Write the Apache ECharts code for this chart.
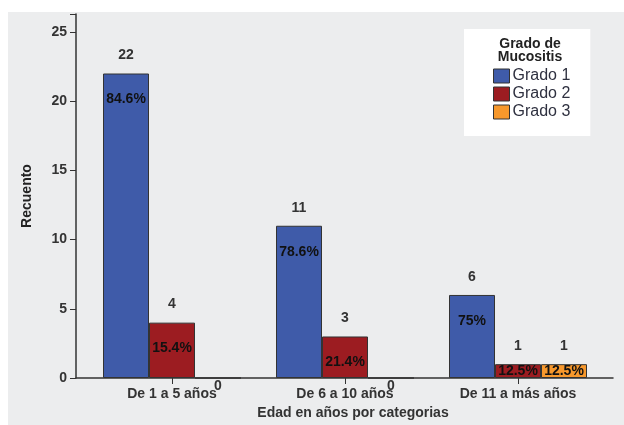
<!DOCTYPE html>
<html>
<head>
<meta charset="utf-8">
<script src="https://cdn.jsdelivr.net/npm/echarts@6/dist/echarts.min.js"></script>
<style>
  html, body { margin:0; padding:0; background:#ffffff; }
  #chart { position:absolute; left:8px; top:12px; width:616px; height:413px; background:#ecedee; }
</style>
</head>
<body>
<div id="chart"></div>
<script>
// data
var categories = ['De 1 a 5 años', 'De 6 a 10 años', 'De 11 a más años'];
var grado1 = [22, 11, 6];
var grado2 = [4, 3, 1];
var grado3 = [0, 0, 1];
var pct1 = ['84.6%', '78.6%', '75%'];
var pct2 = ['15.4%', '21.4%', '12.5%'];
var pct3 = ['', '', '12.5%'];
var yTicks = [0, 5, 10, 15, 20, 25];

var names = ['Grado 1', 'Grado 2', 'Grado 3'];
var colors = ['#3f5ba9', '#9c1c21', '#f7982c'];
var FONT = '"Liberation Sans", Arial, sans-serif';
var YMAX = 26.3;

var chart = echarts.init(document.getElementById('chart'));

// count on top of the bar, a 0 sits under the axis
function countData(vals) {
  return vals.map(function (v) {
    return {
      value: v,
      label: v === 0 ? { position: 'bottom', distance: 1 } : {}
    };
  });
}
// percent inside the bar, small bars get it centred
function pctData(vals, pcts) {
  return vals.map(function (v, i) {
    return {
      value: v,
      pct: pcts[i],
      label: v < 2 ? { position: 'inside' } : {}
    };
  });
}

var series = [];
[grado1, grado2, grado3].forEach(function (vals, k) {
  series.push({
    name: names[k],
    type: 'bar',
    xAxisIndex: 1,
    yAxisIndex: 1,
    barWidth: 46,
    barGap: '0%',
    data: countData(vals),
    itemStyle: { color: colors[k], borderColor: '#333', borderWidth: 1 },
    label: {
      show: true, position: 'top', distance: 11,
      color: '#333', fontFamily: FONT, fontWeight: 'bold', fontSize: 14
    }
  });
});
[[grado1, pct1], [grado2, pct2], [grado3, pct3]].forEach(function (p) {
  series.push({
    type: 'bar',
    xAxisIndex: 2,
    yAxisIndex: 1,
    barWidth: 46,
    barGap: '0%',
    silent: true,
    data: pctData(p[0], p[1]),
    itemStyle: { color: 'rgba(0,0,0,0)' },
    label: {
      show: true, position: 'insideTop', distance: 19,
      formatter: function (d) { return d.data.pct; },
      color: '#111', fontFamily: FONT, fontWeight: 'bold', fontSize: 14
    }
  });
});

chart.setOption({
  animation: false,
  title: {
    text: 'Grado de\nMucositis',
    left: 517, top: 21,
    textAlign: 'center',
    textStyle: { fontFamily: FONT, fontWeight: 'bold', fontSize: 14, color: '#222', lineHeight: 13 }
  },
  legend: {
    data: names,
    orient: 'vertical',
    left: 456, top: 17,
    padding: [39, 20, 16, 29],
    backgroundColor: '#ffffff',
    itemWidth: 16, itemHeight: 14, itemGap: 2,
    icon: 'rect',
    itemStyle: { borderColor: '#333', borderWidth: 1 },
    textStyle: { fontFamily: FONT, fontSize: 16, color: '#2f3140', padding: [0, 0, 0, -2] }
  },
  grid: [
    { left: 68, right: 11, top: 2, bottom: 47 },
    { left: 77.5, right: 19.5, top: 2, bottom: 47 }
  ],
  xAxis: [
    {
      gridIndex: 0, type: 'value', min: 0, max: 1,
      axisLine: { show: true, lineStyle: { color: '#333', width: 1.5 } },
      axisTick: { show: false }, axisLabel: { show: false }, splitLine: { show: false }
    },
    {
      gridIndex: 1, type: 'category', data: categories,
      axisLine: { show: false },
      axisTick: { show: true, alignWithLabel: true, length: 6, lineStyle: { color: '#333' } },
      axisLabel: { margin: 9, color: '#333', fontFamily: FONT, fontWeight: 'bold', fontSize: 14 },
      name: 'Edad en años por categorias',
      nameLocation: 'middle', nameGap: 28,
      nameTextStyle: { color: '#333', fontFamily: FONT, fontWeight: 'bold', fontSize: 14, padding: [0, 0, 0, 16] }
    },
    {
      gridIndex: 1, type: 'category', data: categories, show: false
    }
  ],
  yAxis: [
    {
      gridIndex: 0, type: 'value', min: 0, max: YMAX, interval: 5,
      axisLine: { show: true, lineStyle: { color: '#333', width: 1.5 } },
      axisTick: { show: true, length: 6, lineStyle: { color: '#333' } },
      axisLabel: {
        margin: 9, color: '#333', fontFamily: FONT, fontWeight: 'bold', fontSize: 14,
        formatter: function (v) { return yTicks.indexOf(v) >= 0 ? String(v) : ''; }
      },
      splitLine: { show: false },
      name: 'Recuento', nameLocation: 'middle', nameGap: 42, nameRotate: 90,
      nameTextStyle: { color: '#222', fontFamily: FONT, fontWeight: 'bold', fontSize: 14 }
    },
    {
      gridIndex: 1, type: 'value', min: 0, max: YMAX, show: false, splitLine: { show: false }
    }
  ],
  series: series
});
</script>
</body>
</html>
